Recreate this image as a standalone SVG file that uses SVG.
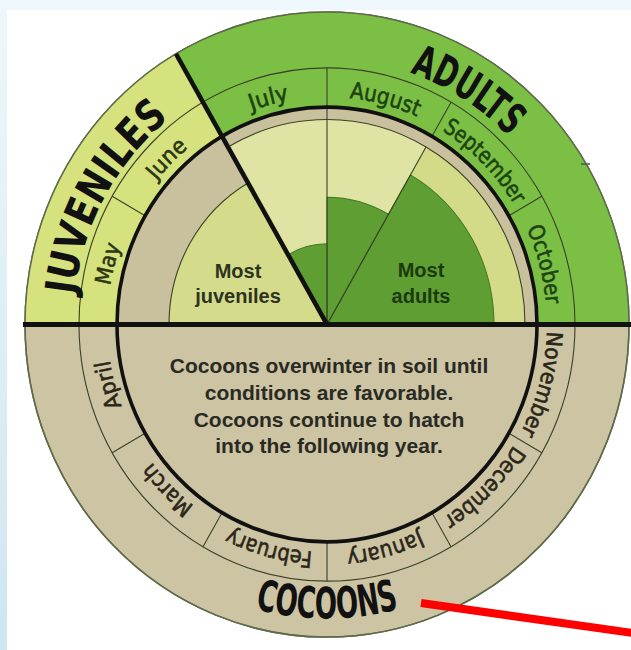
<svg xmlns="http://www.w3.org/2000/svg" width="631" height="650" viewBox="0 0 631 650">
<defs>
<linearGradient id="side" x1="0" y1="0" x2="0" y2="1">
<stop offset="0" stop-color="#eef7fb"/>
<stop offset="1" stop-color="#cfe6ef"/>
</linearGradient>
<style>
.thin{fill:none;stroke:#3b4128;stroke-width:1.1}
.thick{fill:none;stroke:#111;stroke-width:3.6}
.month{font-family:"DejaVu Sans Condensed","Liberation Sans Narrow","DejaVu Sans",sans-serif;font-stretch:condensed;font-size:22px;text-anchor:middle;stroke-width:0.55px}
.mg{fill:#1d4410;stroke:#1d4410}
.mj{fill:#2c3612;stroke:#2c3612}
.mc{fill:#2a2518;stroke:#2a2518}
.title{font-family:"DejaVu Sans Condensed","Liberation Sans Narrow","DejaVu Sans",sans-serif;font-stretch:condensed;font-weight:bold;font-size:42px;fill:#111;text-anchor:middle}
.note{font-family:"Liberation Sans",Arial,sans-serif;font-weight:bold;font-size:21px;fill:#2a2a24;text-anchor:middle}
.most{font-family:"Liberation Sans",Arial,sans-serif;font-weight:bold;font-size:20px;text-anchor:middle}
</style>
<path id="pMay" d="M-220,0 A220,220 0 0 1 -190.5,-110"/>
<path id="pJun" d="M-190.5,-110 A220,220 0 0 1 -110,-190.5"/>
<path id="pJul" d="M-110,-190.5 A220,220 0 0 1 0,-220"/>
<path id="pAug" d="M0,-220 A220,220 0 0 1 110,-190.5"/>
<path id="pSep" d="M110,-190.5 A220,220 0 0 1 190.5,-110"/>
<path id="pOct" d="M190.5,-110 A220,220 0 0 1 220,0"/>
<path id="pNov" d="M220,0 A220,220 0 0 1 190.5,110"/>
<path id="pDec" d="M190.5,110 A220,220 0 0 1 110,190.5"/>
<path id="pJan" d="M110,190.5 A220,220 0 0 1 0,220"/>
<path id="pFeb" d="M0,220 A220,220 0 0 1 -110,190.5"/>
<path id="pMar" d="M-110,190.5 A220,220 0 0 1 -190.5,110"/>
<path id="pApr" d="M-190.5,110 A220,220 0 0 1 -220,0"/>
<path id="pJuv" d="M-253,22.1 A254,254 0 0 1 -115.3,-226.3"/>
<path id="pAdu" d="M-8.9,-256.8 A257,257 0 0 1 234.8,-104.5"/>
<path id="pCoc" d="M-120,257.4 A284,284 0 0 0 120,257.4"/>
</defs>

<rect x="0" y="0" width="631" height="650" fill="#ffffff"/>
<rect x="0" y="0" width="631" height="10" fill="#eef7fb"/>
<rect x="0" y="0" width="7" height="650" fill="url(#side)"/>

<g transform="translate(327,324.5) scale(1,1.035)">
  <g id="cocoons">
    <circle cx="0" cy="0" r="302" fill="#ccc4a2" stroke="#6b6a58" stroke-width="1.5"/>
  </g>
  <g id="adults">
    <path d="M0,0 L302,0 A302,302 0 0 0 -151,-261.5 Z" fill="#7bbf45"/>
  </g>
  <g id="juveniles">
    <path d="M0,0 L-151,-261.5 A302,302 0 0 0 -302,0 Z" fill="#d5e27d"/>
  </g>
  <g id="outer-rim">
    <circle cx="0" cy="0" r="302" fill="none" stroke="#5d6b4a" stroke-width="1.5"/>
  </g>
  <g id="activity">
    <path d="M-210,0 A210,210 0 0 1 210,0 Z" fill="#c9c09e"/>
    <path d="M0,0 L198,0 A198,198 0 0 0 99,-171.5 Z" fill="#d3db88"/>
    <path d="M0,0 L99,-171.5 A198,198 0 0 0 -99,-171.5 Z" fill="#dfe4a4"/>
    <path d="M0,0 L-79,-136.8 A158,158 0 0 0 -158,0 Z" fill="#d4dc8b"/>
    <path d="M0,0 L167,0 A167,167 0 0 0 83.5,-144.6 Z" fill="#5e9e32" stroke="#3f7a1f" stroke-width="1"/>
    <path d="M0,0 L61.5,-106.5 A123,123 0 0 0 0,-123 Z" fill="#5e9e32" stroke="#3f7a1f" stroke-width="1"/>
    <path d="M0,0 L0,-78 A78,78 0 0 0 -39,-67.5 Z" fill="#5e9e32" stroke="#3f7a1f" stroke-width="1"/>
    <path class="thin" d="M198,0 A198,198 0 0 0 -99,-171.5"/>
    <path class="thin" d="M-79,-136.8 A158,158 0 0 0 -158,0"/>
    <path class="thin" d="M0,0 L99,-171.5"/>
  </g>
  <g id="month-ring">
    <circle class="thin" cx="0" cy="0" r="248"/>
    <path class="thin" d="M0,0 L0,-248"/>
    <path class="thin" d="M181.9,-105 L214.8,-124 M105,-181.9 L124,-214.8 M-181.9,-105 L-214.8,-124 M181.9,105 L214.8,124 M105,181.9 L124,214.8 M0,210 L0,248 M-105,181.9 L-124,214.8 M-181.9,105 L-214.8,124"/>
    <circle class="thick" cx="0" cy="0" r="210"/>
  </g>
  <g id="months">
    <text class="month mj"><textPath href="#pMay" startOffset="50%" textLength="40" lengthAdjust="spacingAndGlyphs">May</textPath></text>
    <text class="month mj"><textPath href="#pJun" startOffset="50%" textLength="45" lengthAdjust="spacingAndGlyphs">June</textPath></text>
    <text class="month mg"><textPath href="#pJul" startOffset="50%" textLength="39" lengthAdjust="spacingAndGlyphs">July</textPath></text>
    <text class="month mg"><textPath href="#pAug" startOffset="50%" textLength="70" lengthAdjust="spacingAndGlyphs">August</textPath></text>
    <text class="month mg"><textPath href="#pSep" startOffset="50%" textLength="103" lengthAdjust="spacingAndGlyphs">September</textPath></text>
    <text class="month mg"><textPath href="#pOct" startOffset="50%" textLength="76" lengthAdjust="spacingAndGlyphs">October</textPath></text>
    <text class="month mc"><textPath href="#pNov" startOffset="50%" textLength="102" lengthAdjust="spacingAndGlyphs">November</textPath></text>
    <text class="month mc"><textPath href="#pDec" startOffset="50%" textLength="100" lengthAdjust="spacingAndGlyphs">December</textPath></text>
    <text class="month mc"><textPath href="#pJan" startOffset="50%" textLength="76" lengthAdjust="spacingAndGlyphs">January</textPath></text>
    <text class="month mc"><textPath href="#pFeb" startOffset="50%" textLength="86" lengthAdjust="spacingAndGlyphs">February</textPath></text>
    <text class="month mc"><textPath href="#pMar" startOffset="50%" textLength="60" lengthAdjust="spacingAndGlyphs">March</textPath></text>
    <text class="month mc"><textPath href="#pApr" startOffset="50%" textLength="46" lengthAdjust="spacingAndGlyphs">April</textPath></text>
  </g>
  <g id="titles">
    <text class="title" font-size="39"><textPath href="#pJuv" startOffset="50%" textLength="200" lengthAdjust="spacingAndGlyphs">JUVENILES</textPath></text>
    <text class="title" font-size="39"><textPath href="#pAdu" startOffset="50%" textLength="118" lengthAdjust="spacingAndGlyphs">ADULTS</textPath></text>
    <text class="title" font-size="36"><textPath href="#pCoc" startOffset="50%" textLength="146" lengthAdjust="spacingAndGlyphs">COCOONS</textPath></text>
  </g>
  <path d="M0,0 L-151,-261.5" stroke="#111" stroke-width="4.5" fill="none"/>
</g>

<g id="divider">
  <line x1="23" y1="324.5" x2="631" y2="324.5" stroke="#111" stroke-width="5"/>
</g>

<g id="most-juveniles">
  <text class="most" fill="#2d3320" x="238" y="278">Most</text>
  <text class="most" fill="#2d3320" x="238" y="303">juveniles</text>
</g>
<g id="most-adults">
  <text class="most" fill="#1b3a0e" x="421" y="277">Most</text>
  <text class="most" fill="#1b3a0e" x="421" y="303">adults</text>
</g>
<g id="center-note">
  <text class="note" x="329" y="373">Cocoons overwinter in soil until</text>
  <text class="note" x="329" y="400">conditions are favorable.</text>
  <text class="note" x="329" y="427">Cocoons continue to hatch</text>
  <text class="note" x="329" y="453">into the following year.</text>
</g>
<line x1="581" y1="164" x2="590" y2="164" stroke="#555" stroke-width="1.5"/>
<g id="connectors">
  <line x1="421" y1="603" x2="636" y2="633.5" stroke="#ff0000" stroke-width="8"/>
</g>
</svg>
